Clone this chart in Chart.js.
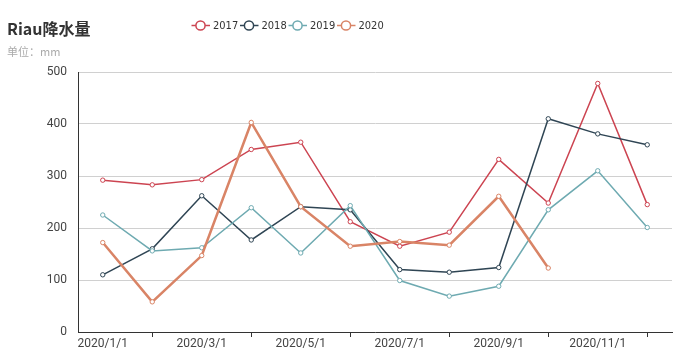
<!DOCTYPE html>
<html>
<head>
<meta charset="utf-8">
<script src="https://cdn.jsdelivr.net/npm/chart.js@4.4.1/dist/chart.umd.min.js"></script>
<style>
  html, body { margin: 0; padding: 0; background: #fff; }
  #wrap { width: 688px; height: 364px; position: relative; }
</style>
</head>
<body>
<div id="wrap"><canvas id="grafico"></canvas></div>
<script>
// datos
const meses = ["2020/1/1", "2020/2/1", "2020/3/1", "2020/4/1", "2020/5/1", "2020/6/1",
  "2020/7/1", "2020/8/1", "2020/9/1", "2020/10/1", "2020/11/1", "2020/12/1"];
const anios = ["2017", "2018", "2019", "2020"];
const lluvia2017 = [292, 283, 293, 351, 365, 212, 165, 192, 332, 248, 478, 245];
const lluvia2018 = [110, 160, 262, 177, 241, 235, 120, 115, 124, 410, 381, 360];
const lluvia2019 = [225, 156, 162, 239, 152, 243, 99, 69, 88, 235, 310, 201];
const lluvia2020 = [172, 58, 147, 403, 241, 165, 174, 167, 261, 123, null, null];
const yTicks = [0, 100, 200, 300, 400, 500];

const colores = ["#cc4451", "#2f4554", "#6eaab1", "#d98466"];
const series = [lluvia2017, lluvia2018, lluvia2019, lluvia2020];
const grosores = [1.5, 1.5, 1.5, 2.5];

const datasets = series.map((serie, i) => ({
  label: anios[i],
  data: serie,
  borderColor: colores[i],
  backgroundColor: "#fff",
  borderWidth: grosores[i],
  pointRadius: 2.2,
  pointBorderWidth: 1,
  pointBackgroundColor: "#fff",
  pointBorderColor: colores[i],
  tension: 0,
  spanGaps: false,
  order: series.length - i
}));

// titulo, subtitulo y leyenda dibujados a mano (estilo echarts)
const cabecera = {
  id: "cabecera",
  afterDraw(chart) {
    const ctx = chart.ctx;
    ctx.save();
    ctx.textBaseline = "middle";
    ctx.textAlign = "left";
    ctx.fillStyle = "#333";
    ctx.font = "bold 16px 'Noto Sans CJK SC', 'Noto Sans', sans-serif";
    ctx.fillText("Riau降水量", 7, 29);
    ctx.fillStyle = "#aaa";
    ctx.font = "11px 'Noto Sans CJK SC', 'Noto Sans', sans-serif";
    ctx.fillText("单位：mm", 7, 52);

    anios.forEach((anio, i) => {
      const cx = 200.5 + i * 48.5;
      const cy = 25.5;
      ctx.strokeStyle = colores[i];
      ctx.lineWidth = 1.5;
      ctx.beginPath();
      ctx.moveTo(cx - 9, cy);
      ctx.lineTo(cx + 9.5, cy);
      ctx.stroke();
      ctx.beginPath();
      ctx.arc(cx, cy, 4.6, 0, Math.PI * 2);
      ctx.fillStyle = "#fff";
      ctx.fill();
      ctx.stroke();
      ctx.fillStyle = "#333";
      ctx.font = "11px 'Liberation Sans Narrow', 'DejaVu Sans Condensed', Roboto, sans-serif";
      ctx.fillText(anio, cx + 12.5, cy + 0.5);
    });
    ctx.restore();
  }
};

new Chart(document.getElementById("grafico").getContext("2d"), {
  type: "line",
  data: { labels: meses, datasets: datasets },
  plugins: [cabecera],
  options: {
    responsive: true,
    maintainAspectRatio: false,
    animation: false,
    layout: { padding: { top: 72, right: 16, bottom: 0, left: 0 } },
    plugins: {
      legend: { display: false },
      tooltip: { mode: "index", intersect: false }
    },
    scales: {
      x: {
        offset: true,
        afterFit: s => { s.height = 32; },
        grid: {
          offset: false,
          drawOnChartArea: false,
          drawTicks: true,
          tickLength: 5,
          tickWidth: 1,
          tickColor: ctx => (ctx.index % 2 === 1 ? "#333" : "rgba(0,0,0,0)")
        },
        border: { color: "#333", width: 1 },
        ticks: {
          autoSkip: false,
          maxRotation: 0,
          padding: 0,
          color: "#444",
          font: { size: 12, family: "Roboto, 'Noto Sans', sans-serif" },
          callback: (v, i) => (i % 2 === 0 ? meses[i] : "")
        }
      },
      y: {
        min: 0,
        max: 500,
        afterFit: s => { s.width = 78; },
        afterBuildTicks: s => { s.ticks = yTicks.map(v => ({ value: v })); },
        grid: { color: "#d0d0d0", lineWidth: 1, drawTicks: false },
        border: { color: "#333", width: 1 },
        ticks: {
          padding: 11,
          color: "#444",
          font: { size: 12, family: "Roboto, 'Noto Sans', sans-serif" }
        }
      }
    }
  }
});
</script>
</body>
</html>
